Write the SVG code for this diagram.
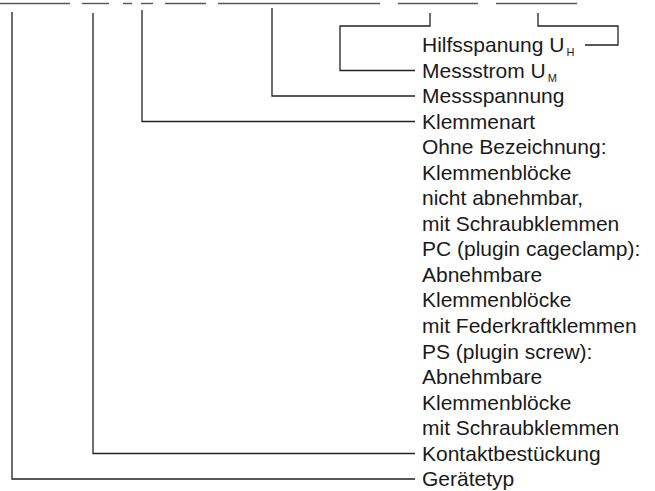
<svg xmlns="http://www.w3.org/2000/svg" width="655" height="491" viewBox="0 0 655 491">
<style>
text{font-family:"Liberation Sans",Arial,sans-serif;font-size:21px;fill:#1a1a1a}
.sub{font-size:11px}
.c{fill:none;stroke:#222;stroke-width:1.3}
.u{stroke:#555;stroke-width:1.4}
</style>
<rect width="655" height="491" fill="#fff"/>
<g id="code-underlines">
<line class="u" x1="0" y1="3.5" x2="70" y2="3.5"/>
<line class="u" x1="82" y1="3.5" x2="109" y2="3.5"/>
<line class="u" x1="123" y1="3.5" x2="132" y2="3.5"/>
<line class="u" x1="141" y1="3.5" x2="153" y2="3.5"/>
<line class="u" x1="165" y1="3.5" x2="206" y2="3.5"/>
<line class="u" x1="218" y1="3.5" x2="380" y2="3.5"/>
<line class="u" x1="398" y1="3.5" x2="478" y2="3.5"/>
<line class="u" x1="496" y1="3.5" x2="577" y2="3.5"/>
</g>
<g id="connectors">
<polyline class="c" points="538,13 538,26 618,26 618,45 585,45"/>
<polyline class="c" points="430,13 430,26 340,26 340,70.5 415,70.5"/>
<polyline class="c" points="272,8 272,96 415,96"/>
<polyline class="c" points="142,10 142,121.5 415,121.5"/>
<polyline class="c" points="93,13 93,453.5 415,453.5"/>
<polyline class="c" points="12,12 12,479 415,479"/>
</g>
<g id="hilfsspannung"><text x="422" y="52">Hilfsspanung U<tspan class="sub" dx="2" dy="4">H</tspan></text></g>
<g id="messstrom"><text x="422" y="77.5">Messstrom U<tspan class="sub" dx="2" dy="4">M</tspan></text></g>
<g id="messspannung"><text x="422" y="103">Messspannung</text></g>
<g id="klemmenart">
<text x="422" y="128.6">Klemmenart</text>
<text x="422" y="154.1">Ohne Bezeichnung:</text>
<text x="422" y="179.7">Klemmenblöcke</text>
<text x="422" y="205.2">nicht abnehmbar,</text>
<text x="422" y="230.8">mit Schraubklemmen</text>
<text x="422" y="256.3">PC (plugin cageclamp):</text>
<text x="422" y="281.8">Abnehmbare</text>
<text x="422" y="307.4">Klemmenblöcke</text>
<text x="422" y="332.9">mit Federkraftklemmen</text>
<text x="422" y="358.5">PS (plugin screw):</text>
<text x="422" y="384">Abnehmbare</text>
<text x="422" y="409.5">Klemmenblöcke</text>
<text x="422" y="435.1">mit Schraubklemmen</text>
</g>
<g id="kontaktbestueckung"><text x="422" y="460.6">Kontaktbestückung</text></g>
<g id="geraetetyp"><text x="422" y="486">Gerätetyp</text></g>
</svg>
